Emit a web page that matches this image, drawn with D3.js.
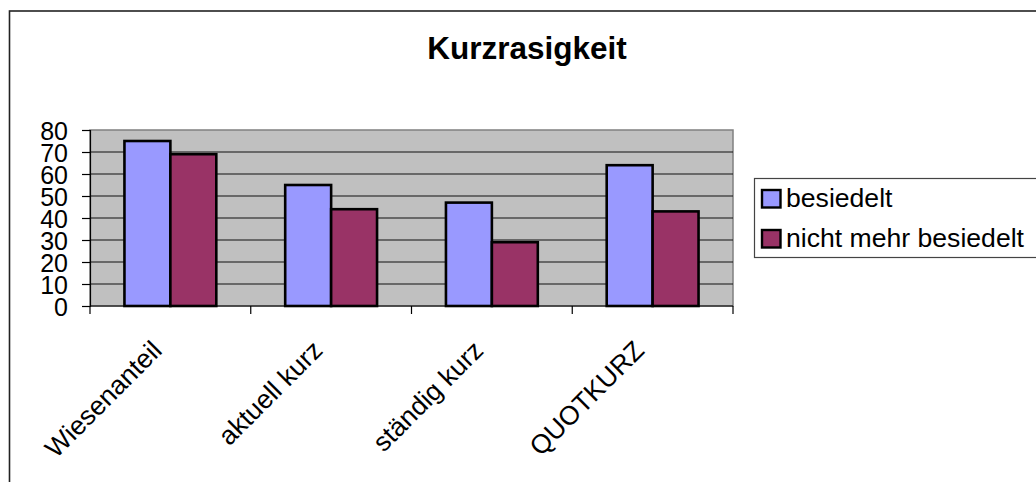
<!DOCTYPE html>
<html>
<head>
<meta charset="utf-8">
<script src="https://cdn.jsdelivr.net/npm/d3@7"></script>
<style>
  body { margin: 0; background: #fff; }
  svg { display: block; font-family: "Liberation Sans", Arial, sans-serif; }
</style>
</head>
<body>
<script>
// data
var categories = ["Wiesenanteil", "aktuell kurz", "ständig kurz", "QUOTKURZ"];
var seriesNames = ["besiedelt", "nicht mehr besiedelt"];
var besiedelt = [75, 55, 47, 64];
var nichtMehrBesiedelt = [69, 44, 29, 43];
var yTicks = [0, 10, 20, 30, 40, 50, 60, 70, 80];
var colors = ["#9999ff", "#993366"];

var width = 1036, height = 482;
var plot = {left: 90, right: 733, top: 130, bottom: 306};

var rows = categories.map(function(c, i) {
  return {cat: c, values: [besiedelt[i], nichtMehrBesiedelt[i]]};
});

var x0 = d3.scaleBand().domain(categories).range([plot.left, plot.right]);
var x1 = d3.scaleBand().domain(seriesNames).range([0, x0.bandwidth()])
  .paddingInner(0).paddingOuter(0.75);
var y = d3.scaleLinear().domain([0, 80]).range([plot.bottom, plot.top]);

var svg = d3.select("body").append("svg")
  .attr("width", width)
  .attr("height", height);

// chart outline (runs off the right and bottom edge)
svg.append("rect")
  .attr("x", 9.5).attr("y", 11)
  .attr("width", 1100).attr("height", 600)
  .attr("fill", "#fff")
  .attr("stroke", "#222")
  .attr("stroke-width", 1.6);

// title
svg.append("text")
  .attr("x", 527).attr("y", 59)
  .attr("text-anchor", "middle")
  .attr("font-size", 31.5)
  .attr("font-weight", "bold")
  .text("Kurzrasigkeit");

// plot area
svg.append("rect")
  .attr("x", plot.left).attr("y", plot.top)
  .attr("width", plot.right - plot.left)
  .attr("height", plot.bottom - plot.top)
  .attr("fill", "#c0c0c0")
  .attr("stroke", "#808080")
  .attr("stroke-width", 1.5);

// gridlines
svg.append("g")
  .selectAll("line")
  .data(yTicks.filter(function(d) { return d > 0 && d < 80; }))
  .join("line")
  .attr("x1", plot.left).attr("x2", plot.right)
  .attr("y1", function(d) { return y(d); })
  .attr("y2", function(d) { return y(d); })
  .attr("stroke", "#111")
  .attr("stroke-width", 1.2);

// bars
var groups = svg.append("g")
  .selectAll("g")
  .data(rows)
  .join("g")
  .attr("transform", function(d) { return "translate(" + x0(d.cat) + ",0)"; });

groups.selectAll("rect")
  .data(function(d) { return d.values.map(function(v, i) { return {name: seriesNames[i], value: v, i: i}; }); })
  .join("rect")
  .attr("x", function(d) { return x1(d.name); })
  .attr("y", function(d) { return y(d.value); })
  .attr("width", x1.bandwidth())
  .attr("height", function(d) { return y(0) - y(d.value); })
  .attr("fill", function(d) { return colors[d.i]; })
  .attr("stroke", "#000")
  .attr("stroke-width", 2.6);

// y axis
var yAxis = svg.append("g")
  .attr("transform", "translate(" + plot.left + ",0)")
  .call(d3.axisLeft(y).tickValues(yTicks).tickSize(8).tickPadding(14));
yAxis.select(".domain").attr("stroke", "#000").attr("stroke-width", 1.2);
yAxis.selectAll(".tick line").attr("stroke", "#000").attr("stroke-width", 1.2);
yAxis.selectAll(".tick text")
  .attr("font-size", 25)
  .attr("font-family", "Liberation Sans, Arial, sans-serif")
  .attr("fill", "#000")
  .attr("dy", "0.36em");

// x axis: ticks at the category boundaries
var xBounds = categories.map(function(c) { return x0(c); }).concat([plot.right]);
var xAxis = svg.append("g");
xAxis.append("line")
  .attr("x1", plot.left).attr("x2", plot.right)
  .attr("y1", plot.bottom).attr("y2", plot.bottom)
  .attr("stroke", "#000").attr("stroke-width", 1.2);
xAxis.selectAll("line.tk")
  .data(xBounds)
  .join("line")
  .attr("class", "tk")
  .attr("x1", function(d) { return d; }).attr("x2", function(d) { return d; })
  .attr("y1", plot.bottom).attr("y2", plot.bottom + 8)
  .attr("stroke", "#000").attr("stroke-width", 1.2);

xAxis.selectAll("text")
  .data(categories)
  .join("text")
  .attr("transform", function(d) {
    return "translate(" + (x0(d) + x0.bandwidth() / 2 - 7) + "," + (plot.bottom + 46) + ") rotate(-45)";
  })
  .attr("text-anchor", "end")
  .attr("font-size", 26.5)
  .text(function(d) { return d; });

// legend
var legend = svg.append("g");
legend.append("rect")
  .attr("x", 754.5).attr("y", 178.5)
  .attr("width", 400).attr("height", 79)
  .attr("fill", "#fff")
  .attr("stroke", "#444")
  .attr("stroke-width", 1.2);

var items = legend.selectAll("g.item")
  .data(seriesNames)
  .join("g")
  .attr("class", "item")
  .attr("transform", function(d, i) { return "translate(0," + (i * 40) + ")"; });

items.append("rect")
  .attr("x", 762).attr("y", 190)
  .attr("width", 18.5).attr("height", 17.5)
  .attr("fill", function(d, i) { return colors[i]; })
  .attr("stroke", "#000")
  .attr("stroke-width", 2.4);

items.append("text")
  .attr("x", 786).attr("y", 206.7)
  .attr("font-size", 26.6)
  .text(function(d) { return d; });
</script>
</body>
</html>
